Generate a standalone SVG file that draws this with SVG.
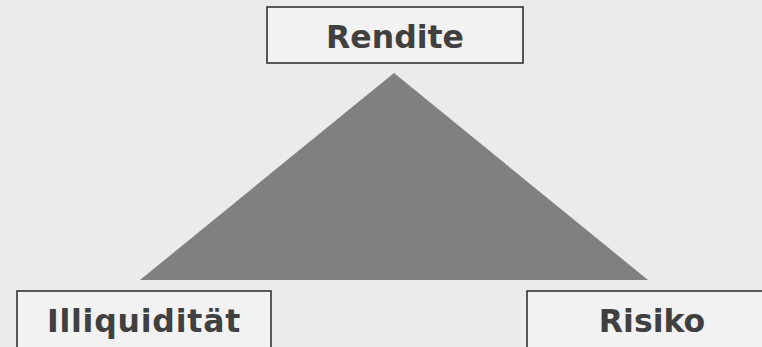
<svg xmlns="http://www.w3.org/2000/svg" width="762" height="347" viewBox="0 0 762 347">
  <style>
    .box { fill: #f2f2f2; stroke: #262626; stroke-width: 1.5; }
    .label { font-family: "DejaVu Sans", Verdana, sans-serif; font-weight: bold; font-size: 31.5px; fill: #404040; text-anchor: middle; }
  </style>
  <rect width="762" height="347" fill="#ebebeb"/>
  <g id="connectors">
    <polygon points="394,73 140,280 648,280" fill="#808080"/>
  </g>
  <g id="rendite">
    <rect class="box" x="267" y="7" width="256" height="56"/>
    <text class="label" x="395" y="48">Rendite</text>
  </g>
  <g id="illiquiditaet">
    <rect class="box" x="17" y="291" width="254" height="70"/>
    <text class="label" x="144" y="332" letter-spacing="0.8">Illiquidität</text>
  </g>
  <g id="risiko">
    <rect class="box" x="527" y="291" width="254" height="70"/>
    <text class="label" x="652" y="332">Risiko</text>
  </g>
</svg>
